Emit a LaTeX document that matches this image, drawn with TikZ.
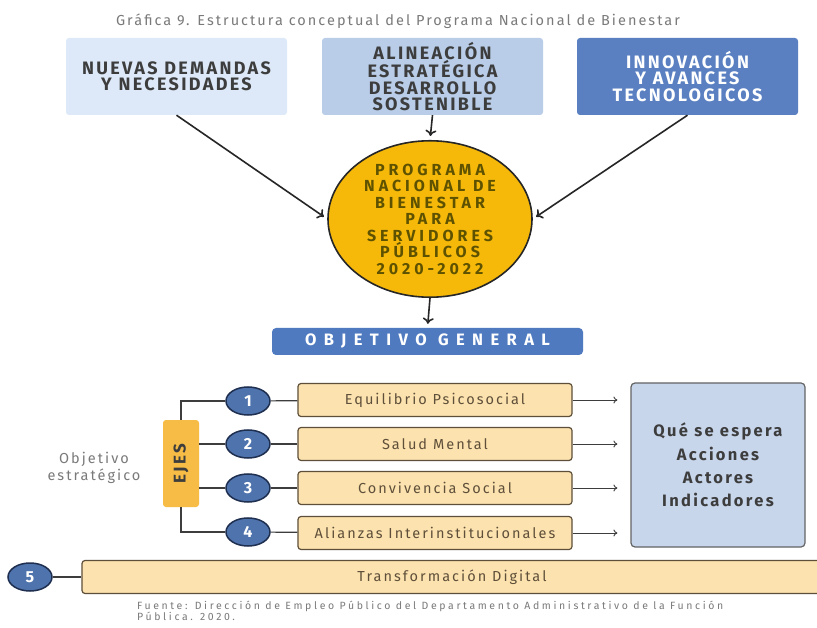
\documentclass[tikz,border=0pt]{standalone}
\usepackage{fontspec}
\setmainfont{Fira Sans}
\newfontfamily\capsfont[LetterSpace=13]{Fira Sans}
\newfontfamily\ovalfont[LetterSpace=25]{Fira Sans}
\newfontfamily\widecaps[LetterSpace=45]{Fira Sans}
\newfontfamily\bodyfont[LetterSpace=14]{Fira Sans}
\newfontfamily\notefont[LetterSpace=25]{Fira Sans}
\usetikzlibrary{arrows,arrows.meta,positioning,calc,shapes.geometric}
\definecolor{paleblue}{HTML}{DDE9F8}
\definecolor{midblue}{HTML}{B9CDE8}
\definecolor{deepblue}{HTML}{5A80C2}
\definecolor{headblue}{HTML}{4F7AC0}
\definecolor{gold}{HTML}{F6B90A}
\definecolor{olive}{HTML}{5E5200}
\definecolor{peach}{HTML}{FCE2AE}
\definecolor{ejesorange}{HTML}{F6BC45}
\definecolor{numblue}{HTML}{4F73AD}
\definecolor{numedge}{HTML}{1E2F50}
\definecolor{espblue}{HTML}{C8D6EC}
\definecolor{inkgray}{HTML}{3D3D3D}
\definecolor{softgray}{HTML}{7A7A7A}
\definecolor{brownink}{HTML}{5E4F3A}
\begin{document}
\begin{tikzpicture}[x=1pt,y=-1pt,
  topbox/.style={rounded corners=3pt,minimum width=221,minimum height=77,align=center,inner sep=0,
    font=\capsfont\bfseries\fontsize{18}{16.3}\selectfont},
  bigarrow/.style={-{To[length=6pt,width=11pt]},line width=1.6pt,black!85,shorten >=4pt},
  numnode/.style={ellipse,draw=numedge,line width=1.5pt,fill=numblue,minimum width=44,minimum height=28,
    inner sep=0,text=white,font=\bfseries\fontsize{16}{16}\selectfont},
  ejebox/.style={rounded corners=3pt,draw=brownink,line width=1.2pt,fill=peach,minimum height=33,inner sep=0,
    text=brownink,font=\bodyfont\fontsize{14.5}{14}\selectfont},
  link/.style={line width=1.2pt,inkgray},
  smallarrow/.style={-{To[length=4pt,width=7pt]},line width=0.9pt,inkgray,shorten >=13pt}]
\useasboundingbox (0,0) rectangle (817,628);
\fill[white] (0,0) rectangle (817,628);

% titulo
\node[text=softgray,font=\bodyfont\fontsize{14.5}{14}\selectfont] (titulo) at (398,21)
  {Gráfica 9. Estructura conceptual del Programa Nacional de Bienestar};

% cajas de arriba
\node[topbox,fill=paleblue,text=inkgray] (demandas) at (176.5,76.5) {NUEVAS DEMANDAS\\Y NECESIDADES};
\node[topbox,fill=midblue,text=inkgray] (alineacion) at (432.5,76.5) {ALINEACIÓN\\ESTRATÉGICA\\DESARROLLO\\SOSTENIBLE};
\node[topbox,fill=deepblue,text=white] (innovacion) at (687.5,76.5) {INNOVACIÓN\\Y AVANCES\\TECNOLOGICOS};

% programa
\node[ellipse,draw=black!85,line width=1.6pt,fill=gold,minimum width=204,minimum height=152,inner sep=0,
  align=center,text=olive,font=\ovalfont\bfseries\fontsize{16}{16.5}\selectfont] (programa) at (430,219)
  {PROGRAMA\\NACIONAL DE\\BIENESTAR\\PARA\\SERVIDORES\\PÚBLICOS\\2020-2022};

\draw[bigarrow] (demandas.south) -- (programa.west);
\draw[bigarrow] (alineacion.south) -- (programa.north);
\draw[bigarrow] (innovacion.south) -- (programa.east);

\node[rounded corners=4pt,fill=headblue,minimum width=311,minimum height=27,inner sep=0,text=white,
  font=\widecaps\bfseries\fontsize{16.5}{14}\selectfont] (objetivo) at (427.5,341.5) {OBJETIVO GENERAL};
\draw[bigarrow] (programa.south) -- (objetivo.north);

% ejes
\node[align=center,text=softgray,font=\bodyfont\fontsize{14.5}{17}\selectfont] (estrategico) at (94,468)
  {Objetivo\\estratégico};
\node[rotate=90,rounded corners=3pt,fill=ejesorange,minimum width=87,minimum height=36,inner sep=0,
  text=inkgray,font=\capsfont\bfseries\fontsize{17}{17}\selectfont] (ejes) at (181,463.5) {EJES};

\node[numnode] (num1) at (248,401) {1};
\node[numnode] (num2) at (248,444) {2};
\node[numnode] (num3) at (248,488) {3};
\node[numnode] (num4) at (248,532) {4};
\node[numnode] (num5) at (30,577) {5};

\node[ejebox,minimum width=274] (eje1) at (435,400) {Equilibrio Psicosocial};
\node[ejebox,minimum width=274] (eje2) at (435,444) {Salud Mental};
\node[ejebox,minimum width=274] (eje3) at (435,488) {Convivencia Social};
\node[ejebox,minimum width=274] (eje4) at (435,533) {Alianzas Interinstitucionales};
\node[ejebox,minimum width=740] (eje5) at (452,577) {Transformación Digital};

\draw[link] (num1.west) -| (ejes.east);
\draw[link] (num4.west) -| (ejes.west);
\draw[link] (num2.west) -- (num2.west -| ejes.south);
\draw[link] (num3.west) -- (num3.west -| ejes.south);
\draw[link] (num1) -- (eje1);
\draw[link] (num2) -- (eje2);
\draw[link] (num3) -- (eje3);
\draw[link] (num4) -- (eje4);
\draw[link] (num5) -- (eje5);

\node[rounded corners=4pt,draw=inkgray!80,line width=1.2pt,fill=espblue,minimum width=174,minimum height=164,
  inner sep=0,align=center,text=inkgray,font=\bodyfont\bfseries\fontsize{16.5}{23.5}\selectfont] (espera) at (718,465)
  {Qué se espera\\Acciones\\Actores\\Indicadores};

\draw[smallarrow] (eje1.east) -- (eje1.east -| espera.west);
\draw[smallarrow] (eje2.east) -- (eje2.east -| espera.west);
\draw[smallarrow] (eje3.east) -- (eje3.east -| espera.west);
\draw[smallarrow] (eje4.east) -- (eje4.east -| espera.west);

% fuente
\node[anchor=north west,align=left,inner sep=0,text=softgray,font=\notefont\fontsize{10.5}{11}\selectfont] (fuente) at (137,601)
  {Fuente: Dirección de Empleo Público del Departamento Administrativo de la Función\\Pública. 2020.};
\end{tikzpicture}
\end{document}
